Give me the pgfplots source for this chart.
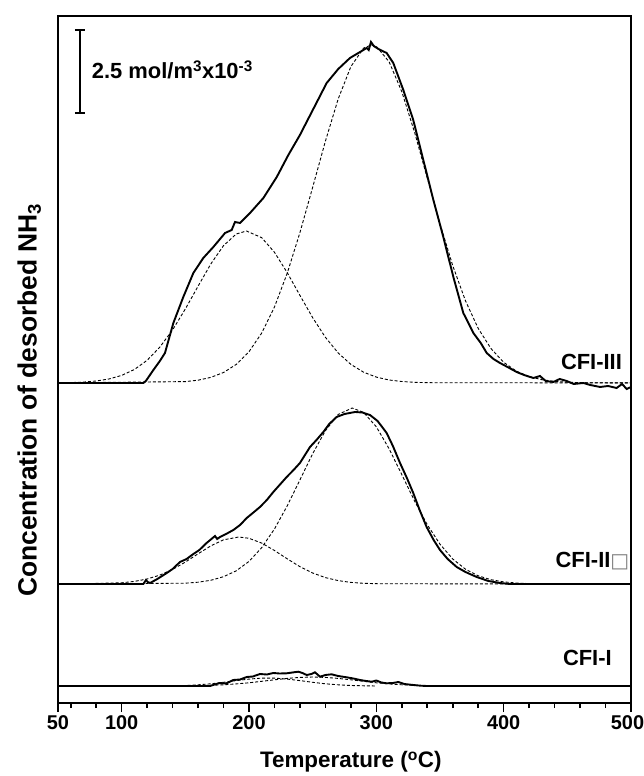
\documentclass[border=0pt]{standalone}
\usepackage{pgfplots}
\pgfplotsset{compat=1.18}
\usepackage{fontspec}
\setmainfont{Liberation Sans}
\newfontfamily\dejavu{DejaVu Sans}
\begin{document}
\begin{tikzpicture}
\begin{axis}[
  at={(0,0)}, anchor=south west,
  scale only axis, width=573bp, height=687bp,
  xmin=50, xmax=500, ymin=0, ymax=687,
  axis line style={line width=2.2bp},
  ytick=\empty,
  xtick={50,100,200,300,400,500},
  xticklabels={50,100,200,300,400,\hspace*{-7bp}500},
  minor xtick={60,80,...,480},
  tick align=outside, xtick pos=bottom,
  major tick length=9bp, minor tick length=5bp,
  tick style={line width=1.6bp, black},
  /pgf/number format/assume math mode=true,
  xticklabel style={font=\fontsize{20}{22}\selectfont\bfseries},
  xlabel={Temperature (\textsuperscript{o}C)},
  xlabel style={font=\fontsize{22.5}{25}\selectfont\bfseries, at={(axis description cs:0.511,-0.086)}, anchor=center},
  ylabel={Concentration of desorbed NH\textsubscript{3}},
  ylabel style={font=\fontsize{26.5}{28}\selectfont\bfseries, at={(axis description cs:-0.05,0.441)}, anchor=center},
  clip=true,
  solid/.style={line width=1.9bp, black},
  fit/.style={line width=0.9bp, black, dash pattern=on 3bp off 2bp},
]
% ---- CFI-III ----
\addplot[fit] coordinates {(50,320.2) (60,320.4) (70,320.9) (80,322.0) (90,324.0) (100,327.6) (110,333.5) (120,342.7) (130,355.9) (140,373.1) (150,394.0) (160,416.8) (170,439.0) (180,457.4) (190,469.0) (198,472) (210,465.3) (220,450.7) (230,430.4) (240,407.6) (250,385.3) (260,365.7) (270,350.1) (280,338.6) (290,330.8) (300,325.9) (310,323.0) (320,321.5) (330,320.7) (340,320.3) (500,320.1)};
\addplot[fit] coordinates {(50,320.1) (150,321.4) (160,322.8) (170,325.6) (180,330.5) (190,338.6) (200,351.3) (210,370.0) (220,396.0) (230,429.7) (240,470.4) (250,515.7) (260,561.8) (270,603.9) (280,636.4) (290,654.9) (296,658) (300,656.6) (310,641.3) (320,611.3) (330,570.8) (340,525.0) (350,479.2) (360,437.4) (370,402.2) (380,374.6) (390,354.5) (400,340.7) (410,331.8) (420,326.4) (430,323.3) (440,321.6) (450,320.8) (460,320.3) (500,320.1)};
\addplot[solid] coordinates {(50,320) (117,320) (119,322) (124.9,333) (130,342) (134,350) (140.6,380) (148.4,406) (156.3,430) (164.1,445) (172,456) (181.2,470) (186.4,473) (189,481) (193,480) (200.8,490) (211.3,505) (221.8,526) (230.9,548) (240,568) (250.5,594) (261,620) (270.1,634) (279.3,645) (287.2,651) (292.4,655) (294,653) (295.8,661) (298,657) (301.6,654) (308.1,650) (313.3,640) (321.2,613) (329,583) (336.9,543) (344.8,503) (352.6,466) (360.5,426) (368.3,390) (376.2,370) (382,360) (386.7,350) (392,344) (397.1,340) (403,336) (410.2,331) (416,328) (423.3,325) (428.5,327) (433,322) (439,321) (444,324) (449.5,322) (455,319) (462.6,320) (468,318) (475.7,316) (482,317) (488.7,315) (493,319) (496.6,314) (500,316)};
% ---- CFI-II ----
\addplot[fit] coordinates {(60,119) (100,120.2) (110,121.6) (120,124.0) (130,127.9) (140,133.6) (150,140.9) (160,149.2) (170,157.1) (180,163.2) (192,166) (200,164.7) (210,159.9) (220,152.5) (230,144.2) (240,136.3) (250,130.0) (260,125.4) (270,122.4) (280,120.6) (290,119.7) (300,119.3) (420,119)};
\addplot[fit] coordinates {(60,119) (150,119.8) (160,120.8) (170,122.7) (180,126.3) (190,132.2) (200,141.6) (210,155.4) (220,174.0) (230,197.1) (240,223.1) (250,249.3) (260,272.3) (270,288.5) (281,295) (290,290.6) (300,276.2) (310,254.3) (320,228.4) (330,202.1) (340,178.3) (350,158.8) (360,144.0) (370,133.8) (380,127.2) (390,123.3) (400,121.1) (410,120.0) (420,119.4)};
\addplot[solid] coordinates {(50,119) (117,119) (119.1,123) (120.5,121) (122.3,120) (128,124) (135.4,130) (140,134) (145.8,141) (151,144) (156.3,149) (161,153) (166.7,160) (173.3,167) (175,164) (177.2,166) (182,169) (187.7,173) (193,178) (198.2,185) (203,190) (208.6,196) (214,203) (219.1,211) (224,218) (229.6,226) (235,233) (240,240) (247.9,256) (253,263) (258.4,271) (263,279) (268.8,286) (275,289) (283.3,291) (289,290.5) (295,288) (301,282) (308.1,270) (313,257) (318.6,240) (324,225) (329,210) (334,193) (339.5,176) (345,163) (350,153) (356,144) (363.1,136) (370,131) (378.8,126) (388,122) (397.1,120) (405,119) (500,119)};
% ---- CFI-I ----
\addplot[fit] coordinates {(140,17) (150,17.5) (160,18.2) (170,19.2) (180,20.7) (190,22.4) (200,23.9) (210,24.9) (220,24.9) (230,23.9) (240,22.4) (250,20.7) (260,19.2) (270,18.2) (280,17.5) (290,17.2) (300,17)};
\addplot[fit] coordinates {(150,17.2) (160,17.3) (170,17.7) (180,18.2) (190,19.1) (200,20.2) (210,21.7) (220,23.2) (230,24.6) (240,25.6) (250,26) (260,25.6) (270,24.6) (280,23.2) (290,21.7) (300,20.2) (310,19.1) (320,18.2) (330,17.7) (340,17.3) (350,17.2) (360,17)};
\addplot[solid] coordinates {(50,17) (169.4,17) (173,18.5) (177.2,20) (182,19.5) (187.7,23) (193,23.5) (198.2,26) (203,26.5) (208.6,29) (214,28.5) (219.1,30) (224,29.5) (229.6,29.7) (234,30.5) (238.7,31.3) (242,30) (245.3,28) (249,29) (251.8,30.7) (255.8,26.3) (260,28) (264.9,28.7) (270,27) (276.7,25.7) (282,24.5) (287.2,23) (292,22) (296.4,21.3) (300,22.5) (304,20.5) (308.1,19.7) (313,20) (317.3,21) (322,19) (329,18) (335,17.3) (339.5,17) (500,17)};
% ---- annotations ----
\draw[line width=1.9bp] (axis cs:67.3,590) -- (axis cs:67.3,673);
\draw[line width=1.9bp] (axis cs:63.3,590) -- (axis cs:71.3,590);
\draw[line width=1.9bp] (axis cs:63.3,673) -- (axis cs:71.3,673);
\node[anchor=west, font=\fontsize{22}{24}\selectfont\bfseries, inner sep=0pt] at (axis cs:76.5,633) {2.5 mol/m\textsuperscript{3}x10\textsuperscript{-3}};
\node[anchor=east, font=\fontsize{22}{24}\selectfont\bfseries, inner sep=0pt] at (axis cs:493,341.5) {CFI-III};
\node[anchor=east, font=\fontsize{22}{24}\selectfont\bfseries, inner sep=0pt] at (axis cs:498.8,141.5) {CFI-II{\color{gray}\dejavu\mdseries\fontsize{20}{22}\selectfont □}};
\node[anchor=east, font=\fontsize{22}{24}\selectfont\bfseries, inner sep=0pt] at (axis cs:485,45) {CFI-I};
\end{axis}
\pgfresetboundingbox
\path[use as bounding box] (-58bp,-73bp) rectangle (586bp,703bp);
\end{tikzpicture}
\end{document}
